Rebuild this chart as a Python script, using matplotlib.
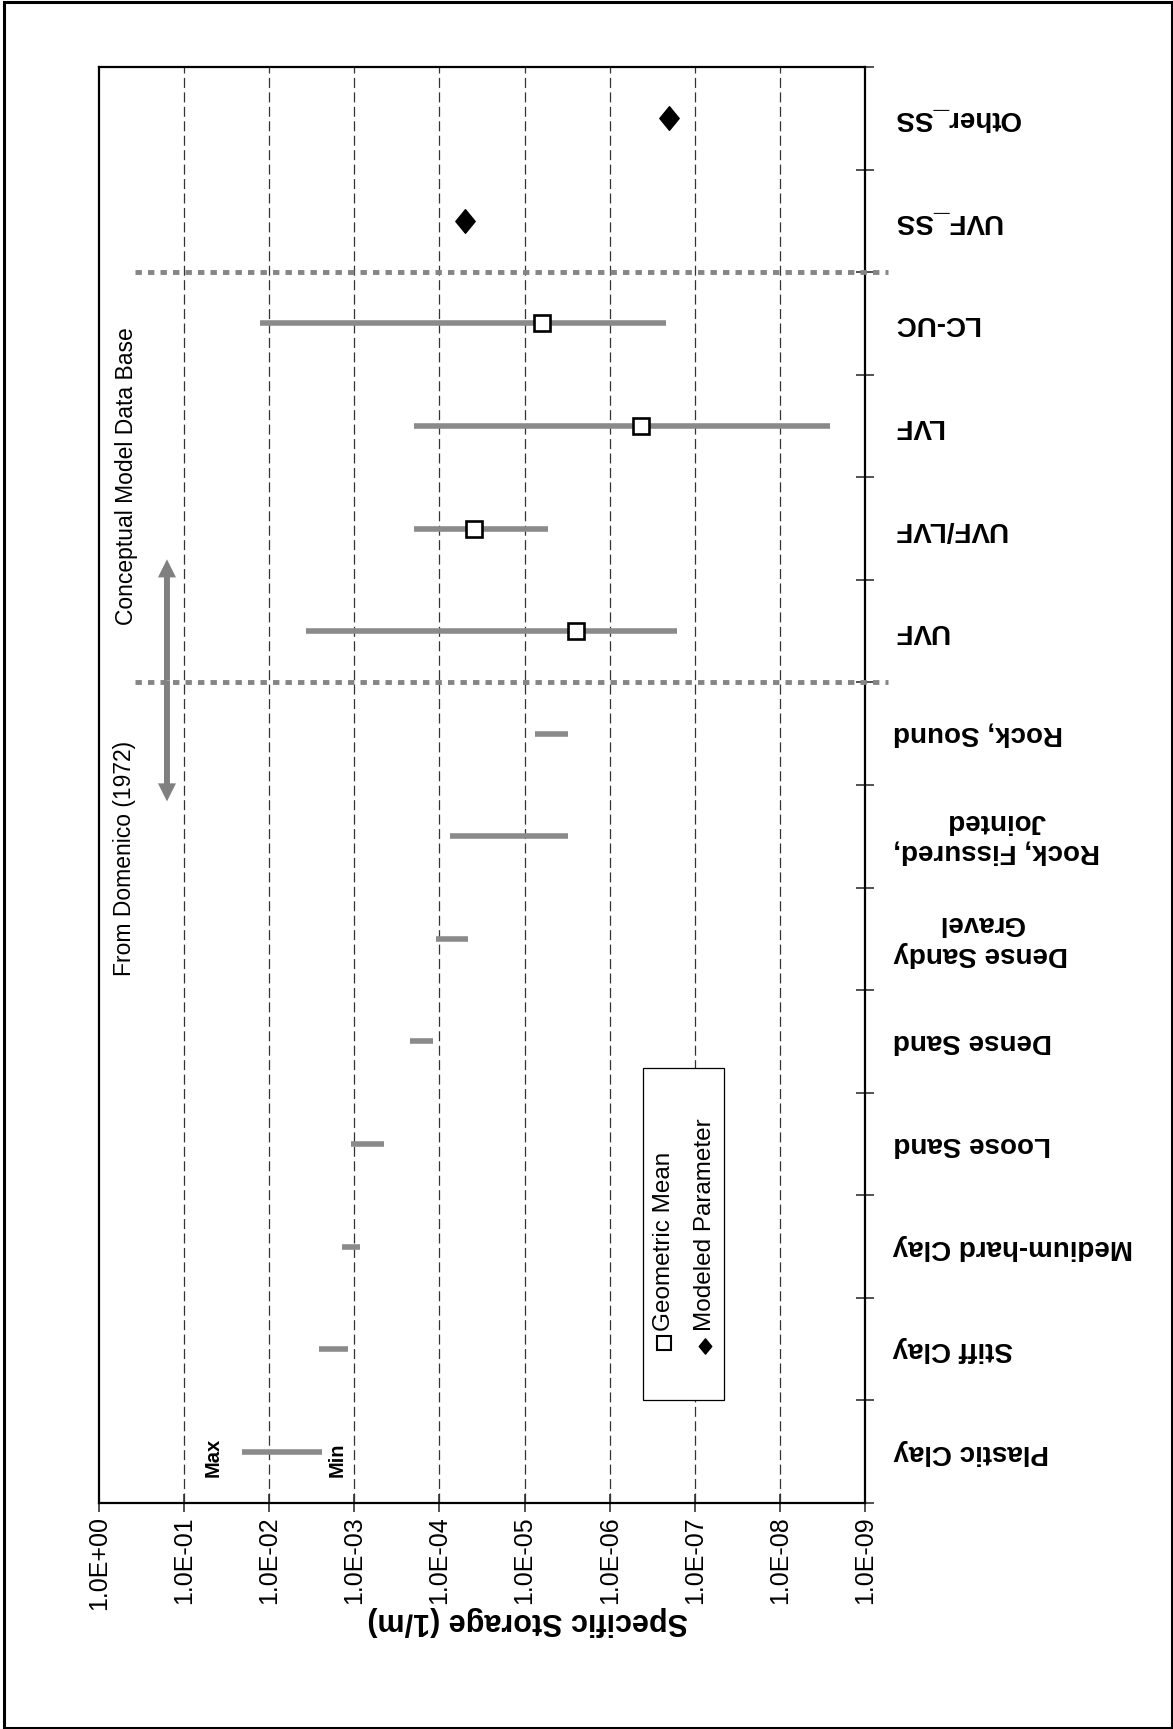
import matplotlib
matplotlib.use("Agg")
import matplotlib.pyplot as plt
from matplotlib.patches import Rectangle, FancyArrowPatch
from matplotlib.path import Path
import numpy as np

plt.rcParams['font.family'] = ['Liberation Sans', 'DejaVu Sans']
plt.rcParams['lines.scale_dashes'] = False

# ---- data (bottom row first) ----
categories = ["Plastic Clay", "Stiff Clay", "Medium-hard Clay", "Loose Sand",
              "Dense Sand", "Dense Sandy\nGravel", "Rock, Fissured,\nJointed",
              "Rock, Sound", "UVF", "UVF/LVF", "LVF", "LC-UC", "UVF_SS", "Other_SS"]
range_max = [2.1e-2, 2.6e-3, 1.4e-3, 1.1e-3, 2.2e-4, 1.1e-4, 7.5e-5, 7.5e-6,
             3.7e-3, 2.0e-4, 2.0e-4, 1.27e-2, None, None]
range_min = [2.4e-3, 1.2e-3, 8.6e-4, 4.5e-4, 1.2e-4, 4.6e-5, 3.1e-6, 3.1e-6,
             1.6e-7, 5.3e-6, 2.6e-9, 2.2e-7, None, None]
geo_mean = [None]*8 + [2.5e-6, 3.9e-5, 4.3e-7, 6.3e-6, None, None]
modeled = [None]*12 + [5.0e-5, 2.0e-7]
tick_values = [1e0, 1e-1, 1e-2, 1e-3, 1e-4, 1e-5, 1e-6, 1e-7, 1e-8, 1e-9]
tick_labels = ["1.0E+00", "1.0E-01", "1.0E-02", "1.0E-03", "1.0E-04",
               "1.0E-05", "1.0E-06", "1.0E-07", "1.0E-08", "1.0E-09"]

W, H = 1173, 1729
fig = plt.figure(figsize=(W/100, H/100), dpi=100)

def fx(px):
    return px / W

def fy(py):
    return 1 - py / H

ax_l, ax_r, ax_t, ax_b = 99, 865, 67, 1503
ax = fig.add_axes([fx(ax_l), fy(ax_b), fx(ax_r) - fx(ax_l), fy(ax_t) - fy(ax_b)])
ax.set_xscale('log')
ax.set_xlim(1e0, 1e-9)
n = len(categories)
ax.set_ylim(-0.5, n - 0.5)

# grid
for v in tick_values[1:-1]:
    ax.axvline(v, color='#333333', lw=0.9, dashes=(7.2, 3.2), zorder=1)

# range bars
ys = np.arange(n)
for y, lo, hi in zip(ys, range_min, range_max):
    if lo is not None:
        ax.plot([hi, lo], [y, y], color='#8a8a8a', lw=4.0, solid_capstyle='butt', zorder=3)

# geometric means
gy = [y for y, g in zip(ys, geo_mean) if g is not None]
gx = [g for g in geo_mean if g is not None]
ax.plot(gx, gy, linestyle='none', marker='s', markersize=11.5, markerfacecolor='white',
        markeredgecolor='black', markeredgewidth=1.9, zorder=5)

# modeled parameter
diamond = Path([(0, 1), (0.82, 0), (0, -1), (-0.82, 0), (0, 1)],
               [Path.MOVETO, Path.LINETO, Path.LINETO, Path.LINETO, Path.CLOSEPOLY])
my = [y for y, m in zip(ys, modeled) if m is not None]
mx = [m for m in modeled if m is not None]
ax.plot(mx, my, linestyle='none', marker=diamond, markersize=17, color='black', zorder=5)

# dotted separators
for yb in [7.5, 11.5]:
    ax.plot([0.047, 1.030], [yb, yb], transform=ax.get_yaxis_transform(),
            color='#858585', lw=3.5, dashes=(4.6, 4.4), solid_capstyle='butt',
            dash_capstyle='butt', clip_on=False, zorder=4)

# double arrow
ax_x = 0.159
y_top, y_bot = 8.70, 6.34
ymid = (y_top + y_bot) / 2
for yend in (y_top, y_bot):
    arr = FancyArrowPatch((ax_x, ymid), (ax_x, yend),
                          arrowstyle='simple,head_length=13,head_width=13,tail_width=4.3',
                          mutation_scale=1, color='#808080', lw=0, shrinkA=0, shrinkB=0,
                          zorder=4)
    ax.add_patch(arr)

# Max / Min labels
ax.text(0.046, -0.25, "Max", rotation=90, ha='center', va='bottom',
        fontsize=14.5, fontweight='bold')
ax.text(1.6e-3, -0.25, "Min", rotation=90, ha='center', va='bottom',
        fontsize=14.5, fontweight='bold')

# axes styling
for s in ax.spines.values():
    s.set_linewidth(1.6)
    s.set_color('black')
ax.set_xticks(tick_values)
ax.set_xticklabels(tick_labels, rotation=90, fontsize=18)
ax.minorticks_off()
ax.tick_params(axis='x', direction='inout', length=13, width=1.2, color='#333333',
               pad=3, bottom=True, top=False)
ax.set_yticks(np.arange(-0.5, n, 1.0))
ax.set_yticklabels([])
ax.tick_params(axis='y', direction='inout', length=13, width=1.2, color='#333333',
               left=False, right=True, labelleft=False, labelright=False)

# category labels (upside down)
for y, c in zip(ys, categories):
    ax.text(1.0366, y, c, transform=ax.get_yaxis_transform(), rotation=180,
            ha='left', va='center', multialignment='center', fontsize=20,
            fontweight='bold', linespacing=1.25)

# axis label (upside down)
fig.text(fx(528), fy(1621), "Specific Storage (1/m)", rotation=180,
         ha='center', va='center', fontsize=22, fontweight='bold')

# annotation texts
fig.text(fx(125), fy(858), "From Domenico (1972)", rotation=90, ha='center',
         va='center', fontsize=16.5)
fig.text(fx(127), fy(476), "Conceptual Model Data Base", rotation=90, ha='center',
         va='center', fontsize=16.5)

# legend (manual, rotated)
fig.patches.append(Rectangle((fx(643), fy(1400)), fx(724) - fx(643), fy(1068) - fy(1400),
                             transform=fig.transFigure, fill=True, facecolor='white',
                             edgecolor='black', lw=0.9, zorder=6))
fig.lines.append(plt.Line2D([fx(664)], [fy(1343)], transform=fig.transFigure, marker='s',
                            markersize=10, markerfacecolor='white', markeredgecolor='black',
                            markeredgewidth=1.5, linestyle='none', zorder=7))
fig.lines.append(plt.Line2D([fx(705)], [fy(1346)], transform=fig.transFigure, marker=diamond,
                            markersize=11, color='black', linestyle='none', zorder=7))
fig.text(fx(664), fy(1331), "Geometric Mean", rotation=90, ha='center', va='bottom',
         fontsize=17.5, zorder=8)
fig.text(fx(705), fy(1331), "Modeled Parameter", rotation=90, ha='center', va='bottom',
         fontsize=17.5, zorder=8)

# outer border
fig.patches.append(Rectangle((fx(3.5), fy(1727.5)), fx(1171.5) - fx(3.5), fy(1.5) - fy(1727.5),
                             transform=fig.transFigure, fill=False, edgecolor='black',
                             lw=2.2, zorder=10))

fig.savefig("out.png", dpi=100)
